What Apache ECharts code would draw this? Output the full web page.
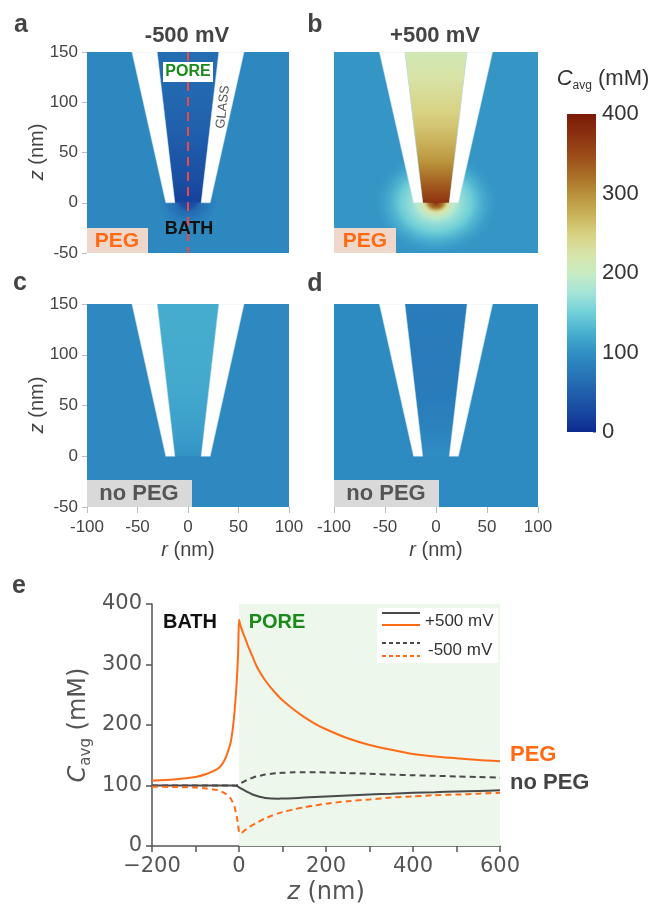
<!DOCTYPE html>
<html><head><meta charset="utf-8">
<script src="https://cdn.jsdelivr.net/npm/echarts/dist/echarts.min.js"></script>
<style>html,body{margin:0;padding:0;background:#fff}#c{width:656px;height:905px}</style>
</head><body><div id="c"></div>
<script>
// ---------------- data ----------------
// z positions (nm) along the pipette axis for panel e
const zGrid = [-200,-150,-100,-75,-50,-40,-30,-20,-15,-10,-5,-2,0,2,5,10,15,20,30,40,50,60,75,90,100,125,150,175,200,250,300,350,400,450,500,550,600];
// C_avg (mM)
const pegPlus    = [108,110,114,119,127,134,147,169,190,224,274,320,374,368,361,351,342,332,315,298,285,274,260,248,241,226,213,202,193,178,167,159,152,148,145,142,140];
const pegMinus   = [98,97.5,96.5,95,92.5,90,86,79,73,64,48,34,24,21,21,24,27,30,34,38,42,45.5,50,54,56,60.5,64,67,70,74,77,80,82,84,85,86.5,88];
const noPegPlus  = [100,100,100,100,100,100,100,100,100,99.5,99,98,97,96,95,93,91,89,85.5,83,81,79.5,78.5,78.3,78.5,79,80,81,82,83.5,85,86.5,88,89,90,91,92];
const noPegMinus = [100,100,100,100,100,100,100,100,100,100,100.5,101,101.5,102.5,104,106,108,110,112.5,115,116.5,118,119.5,120.5,121,121.7,122,122,121.5,120.5,119.5,118,117,116,115,114,113];

// panels a,b,c,d
const panelProfiles = [pegMinus, pegPlus, noPegMinus, noPegPlus];
const bathC = [92, 105, 93, 95];         // far-field bath concentration (mM)
const haloR = [28, 52, 0, 0];            // extent of tip halo (nm)

// pipette geometry (nm)
const glassZ = [150, 0];
const glassInner = [30.5, 13];   // inner radius at z=150, z=0
const glassOuter = [55.5, 22];   // outer radius at z=150, z=0

// colormap (value mM, colour)
const cmapStops = [[0,'#0c2a90'],[25,'#1848a0'],[50,'#2060ac'],[75,'#2878b8'],[100,'#3090c4'],[125,'#48b0d0'],[150,'#70d0d8'],[175,'#a4e4d8'],[200,'#c8ecc4'],[225,'#d8e4a8'],[250,'#d8d080'],[275,'#c8b058'],[300,'#b8903a'],[325,'#a86a24'],[350,'#9b4a18'],[375,'#8a3010'],[400,'#7b1a05']];

// ---------------- helpers ----------------
function h2r(h){return [parseInt(h.slice(1,3),16),parseInt(h.slice(3,5),16),parseInt(h.slice(5,7),16)];}
function cmapRGB(v){
  v = Math.max(0, Math.min(400, v));
  for (let i=0;i<cmapStops.length-1;i++){
    const [v0,c0]=cmapStops[i],[v1,c1]=cmapStops[i+1];
    if (v<=v1){
      const t=(v-v0)/(v1-v0), a=h2r(c0), b=h2r(c1);
      return a.map((x,j)=>Math.round(x+(b[j]-x)*t));
    }
  }
  return h2r(cmapStops[cmapStops.length-1][1]);
}
const cmap=(v,a)=>{const c=cmapRGB(v);return a===undefined?'rgb('+c.join(',')+')':'rgba('+c.join(',')+','+a+')';};
const valAt=(prof,z)=>prof[zGrid.indexOf(z)];

function makePanelRender(k){
  return function(params, api){
    const P=(r,z)=>api.coord([r,z]);
    const prof=panelProfiles[k];
    const tl=P(-100,150), br=P(100,-50);
    const ch=[];
    ch.push({type:'rect',shape:{x:tl[0],y:tl[1],width:br[0]-tl[0],height:br[1]-tl[1]},style:{fill:cmap(bathC[k])}});
    const R=haloR[k];
    if (R>0){
      const o=P(0,0), rpx=P(0,-R)[1]-o[1];
      const hs=[];
      let lastOff=0, lastV=prof[zGrid.indexOf(0)];
      zGrid.forEach((z,i)=>{ if(z<=0 && -z<=R*0.6){ hs.push({offset:-z/R,color:cmap(prof[i],1)}); if(-z/R>=lastOff){lastOff=-z/R;lastV=prof[i];} } });
      hs.sort((a,b)=>a.offset-b.offset);
      // soft fade from the last profile value into the bath
      hs.push({offset:(lastOff+1)/2,color:cmap((lastV+bathC[k])/2,0.6)});
      hs.push({offset:1,color:cmap(bathC[k],0)});
      ch.push({type:'circle',x:o[0],y:o[1],scaleX:1.2,shape:{cx:0,cy:0,r:rpx},
        style:{fill:{type:'radial',x:0.5,y:0.5,r:0.5,colorStops:hs}}});
      // cap just below the tip opening
      const cr=P(glassInner[1],0)[0]-o[0];
      ch.push({type:'circle',x:o[0],y:o[1],scaleY:0.75,shape:{cx:0,cy:0,r:cr},
        style:{fill:{type:'radial',x:0.5,y:0.5,r:0.5,colorStops:[
          {offset:0,color:cmap(valAt(prof,0),1)},{offset:0.55,color:cmap(valAt(prof,-2),0.9)},{offset:1,color:cmap(valAt(prof,-10),0)}]}}});
    }
    // pore
    const ps=[];
    zGrid.forEach((z,i)=>{ if(z>=0 && z<=150) ps.push({offset:(150-z)/150,color:cmap(prof[i])}); });
    ps.sort((a,b)=>a.offset-b.offset);
    ch.push({type:'polygon',shape:{points:[P(-glassInner[0],glassZ[0]),P(glassInner[0],glassZ[0]),P(glassInner[1],glassZ[1]),P(-glassInner[1],glassZ[1])]},
      style:{fill:{type:'linear',x:0,y:0,x2:0,y2:1,colorStops:ps}}});
    // glass walls
    [-1,1].forEach(s=>{
      ch.push({type:'polygon',shape:{points:[P(s*glassOuter[0],glassZ[0]),P(s*glassInner[0],glassZ[0]),P(s*glassInner[1],glassZ[1]),P(s*glassOuter[1],glassZ[1])]},
        style:{fill:'#ffffff',stroke:'rgba(200,225,240,0.8)',lineWidth:0.6}});
    });
    if (k===0){
      const t=P(0,150), b=P(0,-50);
      ch.push({type:'line',shape:{x1:t[0],y1:t[1],x2:b[0],y2:b[1]},style:{stroke:'#f04848',lineWidth:2,lineDash:[9,6]}});
    }
    return {type:'group',children:ch};
  };
}

function cbarRender(params, api){
  const t=api.coord([0,400]), b=api.coord([1,0]);
  const stops=cmapStops.map(s=>({offset:(400-s[0])/400,color:s[1]})).sort((a,b)=>a.offset-b.offset);
  return {type:'rect',shape:{x:t[0],y:t[1],width:b[0]-t[0],height:b[1]-t[1]},
    style:{fill:{type:'linear',x:0,y:0,x2:0,y2:1,colorStops:stops}}};
}

// ---------------- layout ----------------
const grids=[
  {left:87, top:52, width:202, height:201},
  {left:334,top:52, width:204, height:201},
  {left:87, top:304,width:202, height:203},
  {left:334,top:304,width:204, height:203},
  {left:567,top:114,width:29, height:318},
  {left:152,top:604,width:348, height:242}
];
const PF='Liberation Sans', DF='DejaVu Sans';
const xAxes=[], yAxes=[];
for (let k=0;k<4;k++){
  const showX = k>=2, showY = (k%2===0);
  xAxes.push({gridIndex:k,type:'value',min:-100,max:100,interval:50,show:showX,
    axisLine:{show:false,onZero:false},splitLine:{show:false},
    axisTick:{show:true,length:6,lineStyle:{color:'#bbb'}},
    axisLabel:{fontFamily:PF,fontSize:17,color:'#444',margin:12}});
  yAxes.push({gridIndex:k,type:'value',min:-50,max:150,interval:50,show:showY,
    axisLine:{show:false,onZero:false},splitLine:{show:false},
    axisTick:{show:true,length:5,lineStyle:{color:'#bbb'}},
    axisLabel:{fontFamily:PF,fontSize:17,color:'#444',margin:9}});
}
xAxes.push({gridIndex:4,type:'value',min:0,max:1,show:false});
yAxes.push({gridIndex:4,type:'value',min:0,max:400,interval:100,position:'right',
  axisLine:{show:false,onZero:false},splitLine:{show:false},
  axisTick:{show:true,inside:true,length:3,lineStyle:{color:'#999'}},
  axisLabel:{fontFamily:PF,fontSize:22,color:'#333',margin:6}});
xAxes.push({gridIndex:5,type:'value',min:-200,max:600,interval:100,
  axisLine:{onZero:false,lineStyle:{color:'#555',width:1.5}},splitLine:{show:false},
  axisTick:{length:6,lineStyle:{color:'#555',width:1.5}},
  axisLabel:{fontFamily:DF,fontSize:21,color:'#555',margin:10,
    formatter:v=>v%200===0?(v<0?'\u2212'+(-v):String(v)):''}});
yAxes.push({gridIndex:5,type:'value',min:0,max:400,interval:100,
  axisLine:{show:true,onZero:false,lineStyle:{color:'#555',width:1.5}},splitLine:{show:false},
  axisTick:{length:6,lineStyle:{color:'#555',width:1.5}},
  axisLabel:{fontFamily:DF,fontSize:21,color:'#555',margin:10}});

const series=[];
for (let k=0;k<4;k++){
  series.push({type:'custom',xAxisIndex:k,yAxisIndex:k,clip:true,renderItem:makePanelRender(k),data:[[0,0]],silent:true});
}
series.push({type:'custom',xAxisIndex:4,yAxisIndex:4,renderItem:cbarRender,data:[[0,0]],silent:true});
const pairs=a=>zGrid.map((z,i)=>[z,a[i]]);
series.push({type:'line',xAxisIndex:5,yAxisIndex:5,data:[],z:1,
  markArea:{silent:true,itemStyle:{color:'#edf7ec',borderWidth:0},data:[[{xAxis:0,yAxis:0},{xAxis:600,yAxis:400}]]}});
const lineDefs=[
  [noPegMinus,'#4a4a4a',[6,4]],
  [noPegPlus,'#4a4a4a','solid'],
  [pegMinus,'#ff6b17',[6,4]],
  [pegPlus,'#ff6b17','solid']
];
lineDefs.forEach(([d,c,t])=>series.push({type:'line',xAxisIndex:5,yAxisIndex:5,data:pairs(d),z:3,
  symbol:'none',smooth:0.25,lineStyle:{color:c,width:2,type:t}}));

// ---------------- annotations ----------------
const T=(x,y,text,font,fill,extra)=>({type:'text',x:x,y:y,z:20,style:Object.assign({text:text,font:font,fill:fill,align:'center',verticalAlign:'middle'},extra||{})});
const R=(x,y,w,h,fill)=>({type:'rect',z:19,shape:{x:x,y:y,width:w,height:h},style:{fill:fill}});
const Lz=(x1,y,x2,c,dash)=>({type:'line',z:20,shape:{x1:x1,y1:y,x2:x2,y2:y},style:{stroke:c,lineWidth:2,lineDash:dash||null}});
const richZ={i:{fontStyle:'italic',fontFamily:PF,fontSize:20,fill:'#444'},n:{fontFamily:PF,fontSize:20,fill:'#444'}};
const g=[
  T(21,25,'a','bold 25px '+PF,'#444'),
  T(315,25,'b','bold 25px '+PF,'#444'),
  T(20,283,'c','bold 25px '+PF,'#444'),
  T(315,284,'d','bold 25px '+PF,'#444'),
  T(19,586,'e','bold 25px '+PF,'#444'),
  T(187,36,'-500 mV','bold 22px '+PF,'#444'),
  T(435,36,'+500 mV','bold 22px '+PF,'#444'),
  R(163,62,50,20,'#ffffff'),
  T(188,72,'PORE','bold 16px '+PF,'#1a8a1a'),
  T(189,229,'BATH','bold 18px '+PF,'#111'),
  Object.assign(T(223,107,'GLASS','13px '+PF,'#555'),{rotation:83.5*Math.PI/180}),
  R(87,228,61,25,'#efd8cb'), T(117,241,'PEG','bold 21px '+PF,'#ff6a13'),
  R(334,228,62,25,'#efd8cb'), T(365,241,'PEG','bold 21px '+PF,'#ff6a13'),
  R(87,480,105,27,'#d9d9d9'), T(139,494,'no PEG','bold 22px '+PF,'#555'),
  R(334,480,105,27,'#d9d9d9'), T(386,494,'no PEG','bold 22px '+PF,'#555'),
  Object.assign(T(37,152,'{i|z}{n| (nm)}','20px '+PF,'#444',{rich:richZ}),{rotation:Math.PI/2}),
  Object.assign(T(37,405,'{i|z}{n| (nm)}','20px '+PF,'#444',{rich:richZ}),{rotation:Math.PI/2}),
  T(188,550,'{i|r}{n| (nm)}','20px '+PF,'#444',{rich:richZ}),
  T(436,550,'{i|r}{n| (nm)}','20px '+PF,'#444',{rich:richZ}),
  T(603,79,'{i|C}{s|avg}{n| (mM)}','22px '+PF,'#333',{rich:{
    i:{fontStyle:'italic',fontFamily:PF,fontSize:22,fill:'#333'},
    s:{fontFamily:PF,fontSize:12,fill:'#333',padding:[14,0,0,0]},
    n:{fontFamily:PF,fontSize:22,fill:'#333'}}}),
  // panel e
  Object.assign(T(79,725,'{i|C}{s|avg}{n| (mM)}','23px '+DF,'#555',{rich:{
    i:{fontStyle:'italic',fontFamily:DF,fontSize:24,fill:'#555'},
    s:{fontFamily:DF,fontSize:15,fill:'#555',padding:[14,0,0,0]},
    n:{fontFamily:DF,fontSize:24,fill:'#555'}}}),{rotation:Math.PI/2}),
  T(326,893,'{i|z}{n| (nm)}','24px '+DF,'#555',{rich:{
    i:{fontStyle:'italic',fontFamily:DF,fontSize:24,fill:'#555'},
    n:{fontFamily:DF,fontSize:24,fill:'#555'}}}),
  T(190,622,'BATH','bold 20px '+PF,'#111'),
  T(277,622,'PORE','bold 20px '+PF,'#1a8a1a'),
  R(377,608,121,55,'#ffffff'),
  Lz(382,613,420,'#4a4a4a'), Lz(382,625,420,'#ff6b17'),
  Lz(382,643,420,'#4a4a4a',[4,3]), Lz(382,656,420,'#ff6b17',[4,3]),
  T(425,621,'+500 mV','17px '+PF,'#333',{align:'left'}),
  T(428,650,'-500 mV','17px '+PF,'#333',{align:'left'}),
  T(510,755,'PEG','bold 22px '+PF,'#ff6a13',{align:'left'}),
  T(510,783,'no PEG','bold 22px '+PF,'#444',{align:'left'})
];

const chart=echarts.init(document.getElementById('c'),null,{renderer:'canvas'});
chart.setOption({animation:false,backgroundColor:'#fff',grid:grids,xAxis:xAxes,yAxis:yAxes,series:series,graphic:{elements:g}});
</script></body></html>
